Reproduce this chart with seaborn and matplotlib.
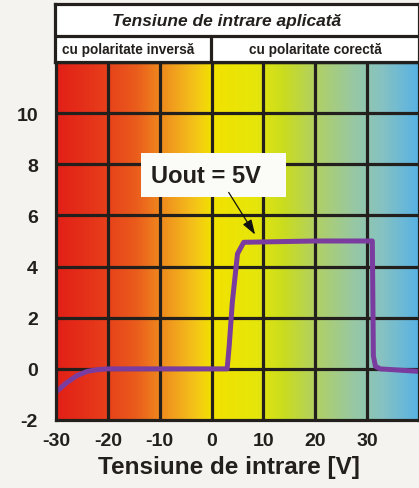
import numpy as np
import pandas as pd
import matplotlib
matplotlib.use("Agg")
import matplotlib.pyplot as plt
from matplotlib.colors import LinearSegmentedColormap
from matplotlib.patches import Rectangle
import seaborn as sns

# Input voltage (V) and regulated output voltage (V)
vin = [-30, -28, -26, -24, -22, -20, -10, 0, 3.0, 3.4, 4.0, 5.0, 6.2, 20, 31.0, 31.2, 31.6, 32.5, 40]
vout = [-0.9, -0.55, -0.27, -0.1, -0.03, 0, 0, 0, 0, 0.9, 2.6, 4.5, 4.95, 5, 5, 0.5, 0.1, 0, -0.1]

xticks = [-30, -20, -10, 0, 10, 20, 30]
yticks = [-2, 0, 2, 4, 6, 8, 10]
x_range = (-30, 40)
y_range = (-2, 12)

title = "Tensiune de intrare aplicată"
left_label = "cu polaritate inversă"
right_label = "cu polaritate corectă"
xlabel = "Tensiune de intrare [V]"
note = "Uout = 5V"

sns.set_style("white")
plt.rcParams["font.family"] = ["Liberation Sans", "DejaVu Sans"]
plt.rcParams["axes.unicode_minus"] = False

W, H = 419, 489
bg = "#f4f3ef"
ink = "#231f1c"
fig = plt.figure(figsize=(W / 100, H / 100), dpi=100, facecolor=bg)

ax = fig.add_axes([56 / W, 68 / H, (W - 56) / W, (421 - 63) / H])

# Colour band: red (reverse polarity) through yellow to blue
stops = [(0.0, "#e21f17"), (0.12, "#e63a1a"), (0.22, "#ea5c1c"), (0.29, "#ef8a1e"),
         (0.38, "#f4c21a"), (0.43, "#f2e200"), (0.55, "#e6e60a"), (0.63, "#c9dc20"),
         (0.72, "#b0d066"), (0.82, "#98c8a2"), (0.9, "#86c2c2"), (1.0, "#58b2e4")]
cmap = LinearSegmentedColormap.from_list("band", stops)
grad = np.linspace(0, 1, 512)[None, :]
ax.imshow(grad, cmap=cmap, aspect="auto", extent=[*x_range, *y_range],
          origin="lower", zorder=0, interpolation="bicubic")

# Grid
for x in xticks[1:]:
    ax.axvline(x, color=ink, lw=2.3, zorder=1)
for y in yticks[1:] + [12]:
    ax.axhline(y, color=ink, lw=2.3, zorder=1)

df = pd.DataFrame({"vin": vin, "vout": vout})
sns.lineplot(data=df, x="vin", y="vout", ax=ax, color="#7a3d9f", lw=3.6,
             sort=False, zorder=3, solid_joinstyle="round")

ax.set_xlim(*x_range)
ax.set_ylim(*y_range)
ax.set_xticks(xticks)
ax.set_yticks(yticks)
ax.tick_params(length=0, labelsize=14, colors=ink)
ax.tick_params(axis="y", pad=13)
ax.tick_params(axis="x", pad=9)
for lab in ax.get_xticklabels() + ax.get_yticklabels():
    lab.set_fontweight("bold")
ax.set_ylabel("")
ax.set_xlabel(xlabel, fontsize=17.5, fontweight="bold", color=ink)
ax.xaxis.set_label_coords((229 - 56) / (W - 56), -0.098)
for s in ax.spines.values():
    s.set_color(ink)
    s.set_linewidth(2.3)
    s.set_zorder(4)

# Output-voltage callout
ax.add_patch(Rectangle((-13.7, 6.72), 28.0, 1.71, facecolor="#fbfbf8",
                       edgecolor="none", zorder=5))
ax.text(-1.0, 7.56, note, fontsize=17, fontweight="bold", color=ink,
        ha="center", va="center", zorder=6)
ax.annotate("", xy=(8.4, 5.25), xytext=(3.3, 6.9),
            arrowprops=dict(arrowstyle="-|>,head_length=0.9,head_width=0.3",
                            color="#111111", lw=0.9, shrinkA=0, shrinkB=0),
            zorder=6)

# Header table above the plot
hax = fig.add_axes([55 / W, (H - 63) / H, (W - 55) / W, (63 - 5) / H])
hax.set_xlim(0, 1)
hax.set_ylim(0, 1)
hax.set_facecolor("white")
hax.set_xticks([])
hax.set_yticks([])
for s in hax.spines.values():
    s.set_color(ink)
    s.set_linewidth(2.3)
split_y = (63 - 37) / 58
split_x = (211 - 55) / (W - 55)
hax.axhline(split_y, color=ink, lw=2.3)
hax.plot([split_x, split_x], [0, split_y], color=ink, lw=2.3)
hax.text((227 - 55) / (W - 55), (split_y + 1) / 2, title, fontsize=12.5,
         fontweight="bold", fontstyle="italic", color=ink, ha="center", va="center")
hax.text((128 - 55) / (W - 55), split_y / 2, left_label, fontsize=9.8,
         fontweight="bold", color=ink, ha="center", va="center")
hax.text((315 - 55) / (W - 55), split_y / 2, right_label, fontsize=9.8,
         fontweight="bold", color=ink, ha="center", va="center")

fig.savefig("out.png", dpi=100, facecolor=bg)
